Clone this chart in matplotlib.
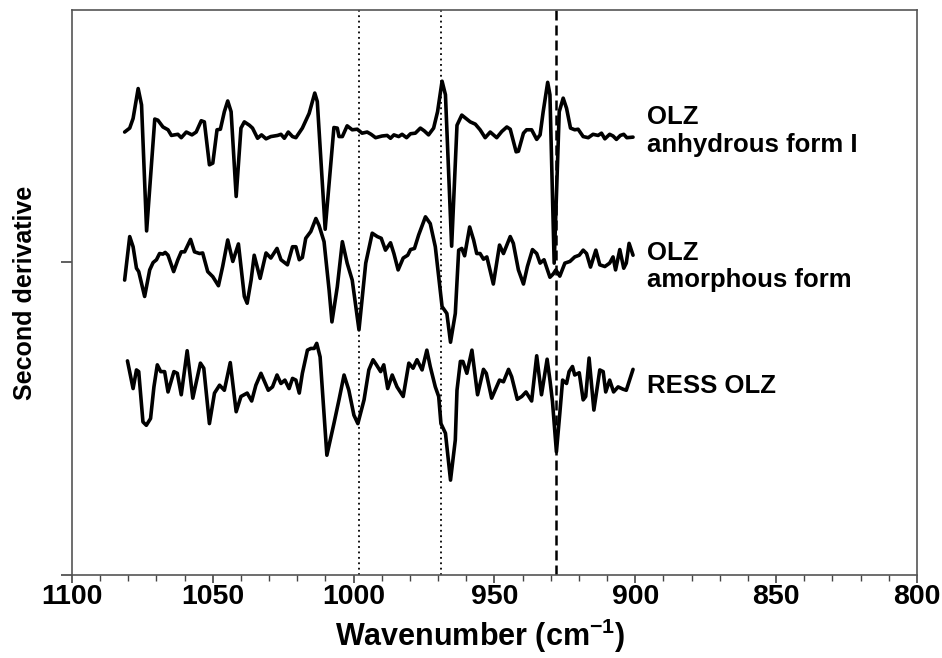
import matplotlib.pyplot as plt
from matplotlib.ticker import MultipleLocator

plt.rcParams["font.family"] = ["Liberation Sans", "DejaVu Sans"]
plt.rcParams["font.weight"] = "bold"
plt.rcParams["mathtext.fontset"] = "custom"
plt.rcParams["mathtext.bf"] = "Liberation Sans:bold"
plt.rcParams["mathtext.rm"] = "Liberation Sans:bold"

# OLZ anhydrous form I (second derivative, offset, a.u.)
anhydrous_wn = [
    1081.3, 1079.5, 1078.3, 1076.5, 1075.3, 1073.5, 1070.6, 1069.5, 1067.7, 1065.9,
    1064.7, 1063.6, 1062.4, 1061.2, 1059.4, 1057.4, 1055.9, 1054.1, 1053.0, 1051.2,
    1050.0, 1048.5, 1047.3, 1045.9, 1044.7, 1043.5, 1041.7, 1040.0, 1038.8, 1037.0,
    1035.9, 1034.1, 1032.7, 1031.1, 1029.4, 1027.0, 1025.8, 1024.6, 1023.2, 1021.7,
    1020.5, 1018.2, 1015.8, 1013.8, 1012.9, 1010.1, 1007.0, 1005.8, 1005.2, 1004.0,
    1002.3, 1000.5, 998.7, 997.0, 995.2, 993.8, 992.2, 989.9, 988.1, 986.9,
    985.7, 984.0, 982.8, 981.2, 979.8, 978.1, 976.3, 974.9, 973.4, 971.6,
    970.2, 968.6, 967.4, 965.2, 963.3, 961.6, 958.6, 956.8, 955.1, 953.3,
    951.5, 949.2, 947.4, 945.6, 944.4, 942.3, 941.5, 939.7, 938.6, 936.8,
    935.0, 933.8, 932.7, 931.1, 930.3, 928.8, 927.0, 925.6, 924.4, 923.0,
    921.5, 920.3, 918.5, 916.7, 915.0, 913.2, 912.0, 910.8, 909.1, 907.9,
    906.7, 905.3, 904.1, 903.0, 900.8,
]
anhydrous_d2 = [
    7.84, 7.91, 8.08, 8.61, 8.32, 6.09, 8.07, 8.05, 7.93, 7.88,
    7.78, 7.79, 7.80, 7.74, 7.84, 7.79, 7.84, 8.04, 8.02, 7.26,
    7.29, 7.88, 7.89, 8.20, 8.39, 8.20, 6.70, 7.91, 8.02, 7.96,
    7.91, 7.73, 7.79, 7.72, 7.76, 7.78, 7.80, 7.73, 7.84, 7.76,
    7.74, 7.91, 8.17, 8.53, 8.38, 6.12, 7.92, 7.91, 7.76, 7.76,
    7.95, 7.88, 7.89, 7.82, 7.84, 7.80, 7.74, 7.77, 7.78, 7.73,
    7.79, 7.76, 7.80, 7.74, 7.81, 7.82, 7.91, 7.86, 7.79, 7.91,
    8.20, 8.74, 8.50, 5.82, 7.96, 8.14, 8.02, 7.98, 7.88, 7.74,
    7.84, 7.74, 7.85, 7.93, 7.89, 7.49, 7.50, 7.82, 7.88, 7.88,
    7.71, 7.79, 8.20, 8.72, 8.50, 5.52, 8.20, 8.44, 8.26, 7.91,
    7.88, 7.89, 7.76, 7.74, 7.80, 7.78, 7.82, 7.72, 7.80, 7.77,
    7.71, 7.78, 7.80, 7.74, 7.75,
]

# OLZ amorphous form
amorphous_wn = [
    1081.3, 1079.5, 1078.3, 1077.1, 1076.3, 1074.2, 1072.4, 1071.2, 1070.0, 1068.9,
    1067.7, 1066.9, 1065.9, 1063.9, 1062.4, 1061.2, 1060.0, 1057.9, 1056.5, 1054.7,
    1053.6, 1051.8, 1050.0, 1048.0, 1046.5, 1044.7, 1042.9, 1040.9, 1038.8, 1037.8,
    1036.4, 1035.3, 1033.2, 1031.1, 1029.4, 1027.2, 1025.8, 1023.5, 1021.7, 1020.5,
    1019.3, 1018.2, 1017.0, 1015.2, 1013.4, 1012.3, 1010.5, 1008.7, 1007.7, 1005.8,
    1004.0, 1002.3, 1000.5, 998.1, 995.7, 993.4, 991.6, 990.2, 988.7, 986.9,
    985.7, 984.2, 982.4, 980.8, 979.8, 978.4, 976.9, 974.5, 972.8, 971.0,
    969.8, 968.6, 966.9, 965.6, 963.9, 962.7, 961.6, 960.6, 958.8, 957.4,
    956.3, 955.1, 953.9, 952.7, 950.4, 948.2, 946.8, 944.4, 943.3, 941.5,
    939.7, 938.3, 936.5, 935.0, 933.8, 932.4, 930.3, 929.1, 928.2, 926.8,
    925.0, 923.2, 921.5, 919.9, 918.5, 917.3, 915.9, 914.0, 912.6, 910.8,
    909.1, 907.9, 907.0, 905.5, 904.1, 903.2, 902.2, 900.8,
]
amorphous_d2 = [
    5.22, 5.99, 5.81, 5.43, 5.37, 4.93, 5.40, 5.53, 5.58, 5.69,
    5.68, 5.71, 5.66, 5.37, 5.58, 5.72, 5.72, 5.94, 5.72, 5.69,
    5.70, 5.37, 5.28, 5.12, 5.46, 5.93, 5.55, 5.86, 4.93, 4.81,
    5.22, 5.66, 5.25, 5.70, 5.61, 5.78, 5.58, 5.49, 5.81, 5.81,
    5.58, 5.62, 5.96, 6.08, 6.31, 6.19, 5.90, 5.04, 4.48, 5.10,
    5.90, 5.52, 5.22, 4.34, 5.52, 6.05, 5.99, 5.96, 5.75, 5.88,
    5.69, 5.40, 5.61, 5.66, 5.76, 5.78, 6.02, 6.34, 6.22, 5.81,
    5.28, 4.75, 4.63, 4.12, 4.63, 5.75, 5.78, 5.65, 6.16, 5.93,
    5.69, 5.69, 5.59, 5.63, 5.15, 5.84, 5.69, 5.99, 5.87, 5.40,
    5.15, 5.46, 5.76, 5.69, 5.52, 5.58, 5.27, 5.33, 5.40, 5.29,
    5.52, 5.55, 5.63, 5.66, 5.75, 5.69, 5.45, 5.75, 5.49, 5.46,
    5.52, 5.63, 5.40, 5.76, 5.43, 5.52, 5.87, 5.66,
]

# RESS OLZ
ress_wn = [
    1080.3, 1078.3, 1077.1, 1076.3, 1074.8, 1073.6, 1072.1, 1070.9, 1069.7, 1068.5,
    1067.1, 1065.9, 1063.8, 1062.6, 1061.2, 1059.1, 1057.1, 1054.4, 1053.2, 1051.2,
    1049.4, 1047.6, 1045.9, 1043.8, 1041.7, 1040.0, 1037.8, 1036.2, 1034.7, 1032.9,
    1030.3, 1028.8, 1027.2, 1025.8, 1024.4, 1022.9, 1021.7, 1020.5, 1019.3, 1018.2,
    1016.4, 1015.2, 1014.0, 1013.1, 1011.9, 1009.5, 1007.0, 1005.2, 1003.4, 1001.7,
    999.9, 998.5, 996.3, 994.6, 993.1, 991.9, 990.4, 989.3, 987.9, 986.3,
    984.6, 982.4, 980.4, 978.9, 977.5, 975.7, 974.0, 972.8, 971.0, 969.8,
    969.0, 967.4, 965.6, 963.9, 963.3, 962.1, 961.2, 959.8, 958.0, 956.0,
    953.9, 952.9, 951.0, 948.2, 946.8, 945.0, 943.9, 941.9, 940.3, 938.8,
    936.8, 935.0, 933.3, 931.3, 930.3, 929.4, 928.0, 926.8, 925.8, 924.4,
    923.5, 922.3, 921.5, 919.9, 918.5, 917.6, 916.4, 914.7, 912.6, 911.4,
    910.5, 909.1, 907.7, 906.1, 904.4, 903.2, 900.8,
]
ress_d2 = [
    3.79, 3.30, 3.63, 3.60, 2.71, 2.65, 2.77, 3.33, 3.72, 3.60,
    3.60, 3.24, 3.60, 3.57, 3.19, 3.97, 3.13, 3.75, 3.66, 2.68,
    3.22, 3.36, 3.27, 3.76, 2.89, 3.16, 3.22, 3.08, 3.36, 3.57,
    3.27, 3.33, 3.54, 3.39, 3.45, 3.30, 3.48, 3.45, 3.22, 3.57,
    3.98, 4.01, 4.01, 4.10, 3.86, 2.12, 2.68, 3.10, 3.54, 3.27,
    2.83, 2.68, 3.10, 3.63, 3.81, 3.72, 3.60, 3.72, 3.30, 3.54,
    3.33, 3.16, 3.75, 3.66, 3.81, 3.63, 3.98, 3.69, 3.33, 3.16,
    2.68, 2.51, 1.68, 2.39, 3.27, 3.78, 3.78, 3.57, 3.98, 3.19,
    3.64, 3.57, 3.13, 3.45, 3.42, 3.64, 3.51, 3.11, 3.16, 3.24,
    3.08, 3.88, 3.19, 3.82, 3.45, 3.07, 2.18, 2.86, 3.45, 3.39,
    3.60, 3.69, 3.54, 3.58, 3.10, 3.16, 3.84, 2.92, 3.63, 3.60,
    3.24, 3.45, 3.24, 3.33, 3.29, 3.27, 3.64,
]

dotted_lines = [998, 969]
dashed_line = 928

labels = ["OLZ\nanhydrous form I", "OLZ\namorphous form", "RESS OLZ"]
label_y = [7.86, 5.46, 3.35]

fig = plt.figure(figsize=(9.42, 6.58), dpi=100)
ax = fig.add_axes([0.0764, 0.1261, 0.897, 0.8587])

for wn, d2 in [(anhydrous_wn, anhydrous_d2), (amorphous_wn, amorphous_d2), (ress_wn, ress_d2)]:
    ax.plot(wn, d2, color="black", linewidth=2.6, solid_joinstyle="round",
            solid_capstyle="round")

for x in dotted_lines:
    ax.axvline(x, color="black", linewidth=1.3, linestyle=(0, (1, 2)))
ax.axvline(dashed_line, color="black", linewidth=1.8, linestyle=(0, (4, 2)))

for text, y in zip(labels, label_y):
    ax.text(896, y, text, fontsize=18.5, fontweight="bold", ha="left", va="center",
            linespacing=1.2)

ax.set_xlim(1100, 800)
ax.set_ylim(0, 10)
ax.xaxis.set_major_locator(MultipleLocator(50))
ax.xaxis.set_minor_locator(MultipleLocator(10))
ax.set_yticks([0, 5.54])
ax.set_yticklabels([])
ax.tick_params(axis="x", which="major", length=6, width=1.2, labelsize=20.5, pad=0.5,
               color="#444444")
ax.tick_params(axis="x", which="minor", length=4, width=1.0, color="#444444")
ax.tick_params(axis="y", length=8, width=1.2, color="#444444")
for lbl in ax.get_xticklabels():
    lbl.set_fontweight("bold")
for s in ax.spines.values():
    s.set_color("#555555")
    s.set_linewidth(1.2)

ax.set_xlabel(r"Wavenumber (cm$^{\mathbf{-1}}$)", fontsize=22, fontweight="bold", labelpad=4.5)
ax.xaxis.label.set_x(0.4835)
ax.set_ylabel("Second derivative", fontsize=18, fontweight="bold", labelpad=14)

fig.savefig("out.png", dpi=100)
